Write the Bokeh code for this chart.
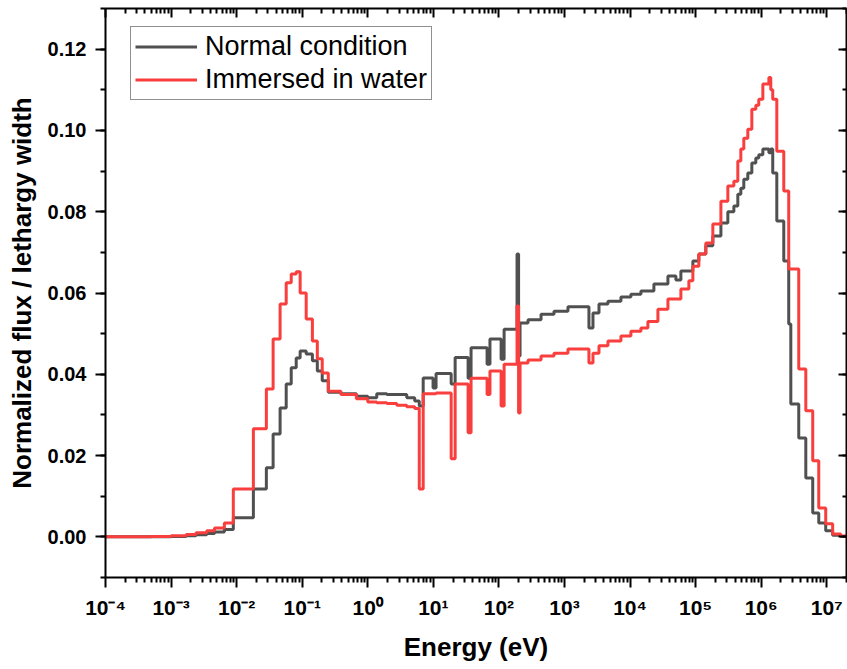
from bokeh.plotting import figure
from bokeh.models import (Range1d, LogAxis, LinearAxis, FixedTicker, SingleIntervalTicker,
                          CustomJSTickFormatter, PrintfTickFormatter, Legend, LegendItem)
from bokeh.embed import file_html
from bokeh.resources import INLINE

# Energy group edges (eV) -- shared by both spectra
energy_edges = [1e-4, 3e-4, 5e-4, 1e-3, 1.7e-3, 2.4e-3, 3.5e-3, 4.6e-3, 6.5e-3, 8.9e-3,
                1.8e-2, 2.84e-2, 3.6e-2, 4.6e-2, 5.7e-2, 6.8e-2, 8.1e-2, 9.3e-2, 0.115, 0.143,
                0.170, 0.202, 0.250, 0.39, 0.67, 1.0, 1.37, 1.95, 2.77, 3.93,
                5.2, 6.1, 7.0, 9.9, 11.0, 18.7, 21.5, 33.9, 37.6, 66,
                73, 108, 120, 189, 199.5, 210, 278, 439, 692, 1130,
                2360, 2720, 3360, 4600, 7260, 10300, 14650, 18700, 23100, 26600,
                37800, 50000, 59600, 78900, 90800, 112000, 143000, 183000, 243000, 310000,
                383000, 440000, 489000, 543000, 625000, 720000, 828000, 919000, 1.06e6, 1.31e6,
                1.40e6, 1.50e6, 1.73e6, 2.21e6, 2.63e6, 2.83e6, 3.74e6, 4.79e6, 6.11e6, 7.55e6,
                9.64e6, 1.23e7, 1.63e7, 2.0e7]

# Normalized flux per lethargy width, one value per group
normal_flux = [0.0000, 0.00003, 0.00005, 0.0001, 0.0003, 0.0005, 0.0008, 0.0012, 0.0018, 0.0047,
               0.0118, 0.0170, 0.0253, 0.0317, 0.0376, 0.0416, 0.0440, 0.0457, 0.0450, 0.0433,
               0.0408, 0.0384, 0.0356, 0.0352, 0.0346, 0.0342, 0.0352, 0.0350, 0.0350, 0.0342,
               0.0334, 0.0322, 0.0391, 0.0366, 0.0402, 0.0376, 0.0441, 0.0390, 0.0465, 0.0425,
               0.0487, 0.0437, 0.0511, 0.0696, 0.0445, 0.0526, 0.0534, 0.0548, 0.0555, 0.0566,
               0.0514, 0.0551, 0.0573, 0.0580, 0.0590, 0.0597, 0.0605, 0.0605, 0.0622, 0.0622,
               0.0642, 0.0632, 0.0654, 0.0654, 0.0679, 0.0696, 0.0716, 0.0740, 0.0772, 0.0800,
               0.0814, 0.0843, 0.0858, 0.0880, 0.0895, 0.0920, 0.0932, 0.0940, 0.0954, 0.0945,
               0.0954, 0.0895, 0.0777, 0.0679, 0.0524, 0.0327, 0.0243, 0.0145, 0.0059, 0.0034,
               0.0015, 0.0004, 0.0001]

water_flux = [0.0000, 0.00005, 0.0001, 0.0003, 0.0006, 0.0010, 0.0015, 0.0022, 0.0034, 0.0118,
              0.0266, 0.0364, 0.0487, 0.0573, 0.0625, 0.0647, 0.0652, 0.0600, 0.0536, 0.0482,
              0.0438, 0.0403, 0.0358, 0.0350, 0.0340, 0.0332, 0.0330, 0.0328, 0.0324, 0.0320,
              0.0316, 0.0118, 0.0352, 0.0352, 0.0354, 0.0192, 0.0376, 0.0256, 0.0390, 0.0350,
              0.0408, 0.0322, 0.0425, 0.0568, 0.0305, 0.0428, 0.0435, 0.0445, 0.0452, 0.0462,
              0.0428, 0.0452, 0.0470, 0.0482, 0.0494, 0.0506, 0.0514, 0.0530, 0.0530, 0.0560,
              0.0585, 0.0585, 0.0610, 0.0630, 0.0666, 0.0696, 0.0723, 0.0770, 0.0826, 0.0863,
              0.0875, 0.0925, 0.0954, 0.0981, 0.1003, 0.1052, 0.1062, 0.1077, 0.1114, 0.1130,
              0.1100, 0.1077, 0.0949, 0.0851, 0.0659, 0.0659, 0.0413, 0.0310, 0.0187, 0.0071,
              0.0032, 0.0007, 0.0002]

series_labels = ["Normal condition", "Immersed in water"]
series_colors = ["#505050", "#F93E3E"]

# tick positions
decade_exponents = list(range(-4, 8))
major_x = [10.0 ** k for k in decade_exponents]
minor_x = [m * 10.0 ** k for k in decade_exponents for m in range(2, 10)]

FONT = "Liberation Sans"

p = figure(width=847, height=669, x_axis_type="log",
           x_range=Range1d(1e-4, 2e7), y_range=Range1d(-0.01, 0.13),
           output_backend="svg", toolbar_location=None,
           min_border_left=105, min_border_right=1, min_border_top=8, min_border_bottom=92)
p.grid.visible = False
p.outline_line_color = None
p.background_fill_color = "white"
p.border_fill_color = "white"

r_normal = p.step(energy_edges, normal_flux + [normal_flux[-1]], mode="after",
                  line_color=series_colors[0], line_width=3)
r_water = p.step(energy_edges, water_flux + [water_flux[-1]], mode="after",
                 line_color=series_colors[1], line_width=3)

sup_code = """
const sup = {"-":"\u207b","0":"\u2070","1":"\u00b9","2":"\u00b2","3":"\u00b3","4":"\u2074",
             "5":"\u2075","6":"\u2076","7":"\u2077","8":"\u2078","9":"\u2079"};
const e = Math.round(Math.log10(tick));
return "10" + String(e).split("").map(c => sup[c]).join("");
"""

xa = p.xaxis[0]
xa.ticker = FixedTicker(ticks=major_x, minor_ticks=minor_x)
xa.formatter = CustomJSTickFormatter(code=sup_code)
xa.axis_label = "Energy (eV)"
xa.axis_label_text_font = FONT
xa.axis_label_text_font_style = "bold"
xa.axis_label_text_font_size = "26px"
xa.axis_label_standoff = 10
xa.major_label_text_font = FONT
xa.major_label_text_font_style = "bold"
xa.major_label_text_font_size = "21px"
xa.major_label_standoff = 8
xa.major_tick_out = 10
xa.major_tick_in = 0
xa.minor_tick_out = 5
xa.minor_tick_in = 0

ya = p.yaxis[0]
ya.ticker = SingleIntervalTicker(interval=0.02, num_minor_ticks=2)
ya.formatter = PrintfTickFormatter(format="%.2f")
ya.axis_label = "Normalized flux / lethargy width"
ya.axis_label_text_font = FONT
ya.axis_label_text_font_style = "bold"
ya.axis_label_text_font_size = "26px"
ya.axis_label_standoff = 8
ya.major_label_text_font = FONT
ya.major_label_text_font_style = "bold"
ya.major_label_text_font_size = "20px"
ya.major_label_standoff = 9
ya.major_tick_out = 10
ya.major_tick_in = 0
ya.minor_tick_out = 5
ya.minor_tick_in = 0

for ax in (xa, ya):
    ax.axis_line_width = 2
    ax.major_tick_line_width = 2
    ax.minor_tick_line_width = 2
    ax.axis_line_color = "black"
    ax.major_tick_line_color = "black"
    ax.minor_tick_line_color = "black"
    ax.major_label_text_color = "black"
    ax.axis_label_text_color = "black"

blank = CustomJSTickFormatter(code="return '';")
top = LogAxis(ticker=FixedTicker(ticks=major_x, minor_ticks=minor_x), formatter=blank,
              major_tick_in=9, major_tick_out=0, minor_tick_in=5, minor_tick_out=0,
              major_label_text_font_size="0px", major_label_standoff=0,
              axis_line_width=2, major_tick_line_width=2, minor_tick_line_width=2)
right = LinearAxis(ticker=SingleIntervalTicker(interval=0.02, num_minor_ticks=2), formatter=blank,
                   major_tick_in=8, major_tick_out=0, minor_tick_in=4, minor_tick_out=0,
                   major_label_text_font_size="0px", major_label_standoff=0,
                   axis_line_width=2, major_tick_line_width=2, minor_tick_line_width=2)
p.add_layout(top, "above")
p.add_layout(right, "right")

legend = Legend(items=[LegendItem(label=series_labels[0], renderers=[r_normal]),
                       LegendItem(label=series_labels[1], renderers=[r_water])],
                location=(25, 477), orientation="vertical",
                label_text_font=FONT, label_text_font_size="27px", label_text_color="black",
                glyph_width=62, glyph_height=31, label_height=31, label_standoff=8,
                padding=4, spacing=2, margin=0,
                border_line_color="#222222", border_line_width=1,
                background_fill_color="white", background_fill_alpha=1.0)
p.add_layout(legend)

open("out.html", "w").write(file_html(p, INLINE))
